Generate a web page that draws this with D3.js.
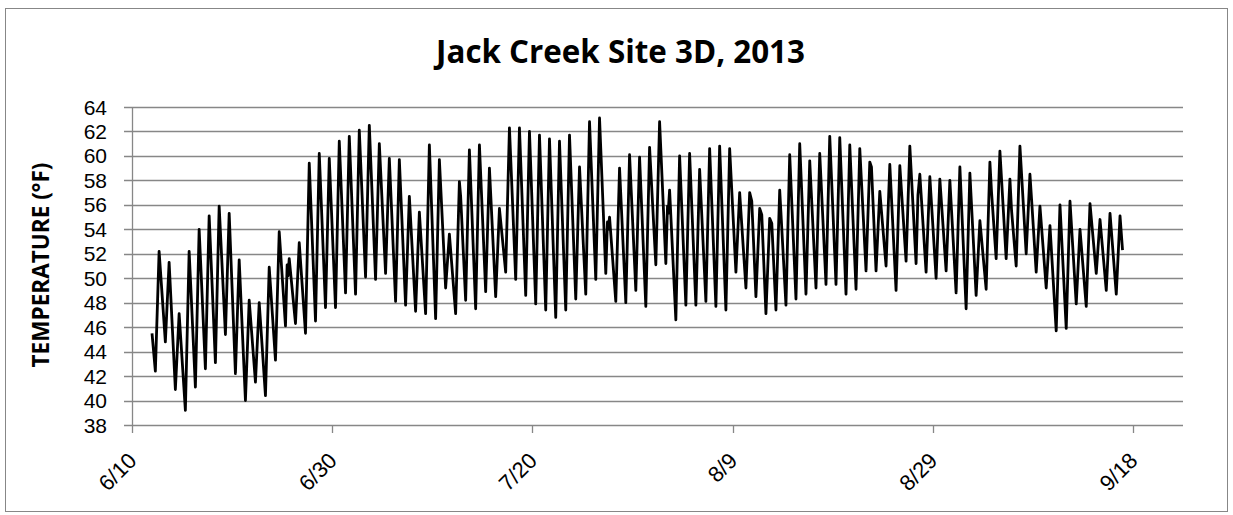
<!DOCTYPE html>
<html><head><meta charset="utf-8">
<script src="https://cdn.jsdelivr.net/npm/d3@7"></script>
<style>
html,body{margin:0;padding:0;background:#fff;}
svg{display:block;font-family:"Open Sans","Liberation Sans",sans-serif;}
.tick{font-family:"Liberation Sans",Arial,sans-serif;}
</style></head>
<body><svg id="c" width="1233" height="515"></svg>
<script>
const chartTitle = "Jack Creek Site 3D, 2013";
const yTitle = "TEMPERATURE (°F)";
const yTicks = [38,40,42,44,46,48,50,52,54,56,58,60,62,64];
const xTickLabels = ["6/10","6/30","7/20","8/9","8/29","9/18"];
const firstDay = "2013-06-12";
// daily minimum readings 6/12 .. 9/16
const dailyMin = [42.4,44.8,40.9,39.2,41.1,42.6,43.1,45.4,42.2,40.0,41.5,40.4,43.3,46.1,46.3,45.5,46.5,47.6,47.6,
 48.8,48.7,50.1,49.9,50.4,48.1,47.8,47.3,47.1,46.7,49.2,47.1,48.2,47.5,48.9,48.5,50.5,49.9,48.6,47.9,47.4,46.8,47.4,48.3,48.7,49.9,50.4,48.1,48.0,49.0,47.7,
 51.1,51.2,46.6,47.8,47.8,48.1,47.7,47.4,50.5,49.2,48.5,47.1,47.4,47.8,48.3,48.7,49.2,49.5,49.5,48.7,49.1,50.6,50.6,51.0,49.0,51.4,51.2,50.5,50.0,50.6,48.8,
 47.5,48.6,49.1,51.6,51.6,51.0,52.0,50.5,49.2,45.7,45.9,47.9,47.7,50.4,49.0,48.7];
// daily maximum readings 6/12 .. 9/16
const dailyMax = [52.2,51.3,47.1,52.2,54.0,55.1,55.9,55.3,51.5,48.2,48.0,50.9,53.8,51.6,52.9,59.4,60.2,59.8,61.2,
 61.6,62.1,62.5,61.0,59.8,59.7,56.7,55.4,60.9,59.7,53.6,57.9,60.5,60.9,59.0,55.7,62.3,62.3,62.0,61.7,61.4,61.2,61.7,59.1,62.8,63.1,55.0,59.0,60.1,59.9,60.7,
 62.8,57.2,60.0,60.2,58.9,60.6,60.8,60.6,57.0,57.0,55.7,54.9,57.2,60.1,61.0,59.6,60.2,61.6,61.5,60.9,60.6,59.5,57.1,59.3,59.2,60.8,58.5,58.3,58.1,58.0,59.1,
 58.6,54.7,59.5,60.4,58.1,60.8,58.5,55.9,54.3,56.0,56.3,54.0,56.1,54.8,55.3,55.1];
// additional intermediate readings (time, °F)
const extraTimes = ["2013-06-12 00:00","2013-06-25 12:00","2013-06-25 14:00","2013-07-12 20:00","2013-07-27 12:00","2013-07-27 14:00",
 "2013-08-02 12:00","2013-08-02 13:30","2013-08-10 22:00","2013-08-11 22:00","2013-08-12 22:00","2013-08-22 21:00",
 "2013-08-27 12:30","2013-09-03 21:00","2013-09-05 21:00","2013-09-07 21:00","2013-09-16 23:00"];
const extraValues = [45.5,51.1,50.2,56.7,54.6,54.0,55.9,55.3,56.3,55.2,54.5,59.1,56.8,57.0,55.5,56.4,52.3];

const svg = d3.select("#c");
const grid = "#878787";

svg.append("rect").attr("x",5.5).attr("y",8.5).attr("width",1222).attr("height",503)
  .attr("fill","#fff").attr("stroke",grid).attr("stroke-width",1);

const parseT = d3.timeParse("%Y-%m-%d %H:%M");
const d0 = d3.timeParse("%Y-%m-%d")(firstDay);
const pts = [];
dailyMin.forEach((v,i)=>{
  const day = d3.timeDay.offset(d0, i);
  pts.push({t:d3.timeHour.offset(day,8), v:v});
  pts.push({t:d3.timeHour.offset(day,17), v:dailyMax[i]});
});
extraTimes.forEach((s,i)=>pts.push({t:parseT(s), v:extraValues[i]}));
pts.sort((a,b)=>a.t-b.t);

const xStart = new Date(2013,5,10), xEnd = new Date(2013,8,23);
const x = d3.scaleTime().domain([xStart,xEnd]).range([132,1183]);
const y = d3.scaleLinear().domain([38,64]).range([425,107]);

// gridlines
svg.append("g").selectAll("line").data(yTicks).join("line")
  .attr("x1",124).attr("x2",1183)
  .attr("y1",d=>Math.round(y(d))+0.5).attr("y2",d=>Math.round(y(d))+0.5)
  .attr("stroke",grid).attr("stroke-width",1.3);
// y axis line
svg.append("line").attr("x1",132.5).attr("x2",132.5).attr("y1",107).attr("y2",425)
  .attr("stroke",grid).attr("stroke-width",1.3);
// y tick labels
svg.append("g").attr("class","tick").selectAll("text").data(yTicks).join("text")
  .attr("x",107).attr("y",d=>y(d)).attr("dy","0.36em")
  .attr("text-anchor","end").attr("font-size",21).attr("fill","#000").text(d=>d);

// x ticks
const xTickDates = xTickLabels.map((s,i)=>d3.timeDay.offset(xStart, i*20));
svg.append("g").selectAll("line").data(xTickDates).join("line")
  .attr("x1",d=>Math.round(x(d))+0.5).attr("x2",d=>Math.round(x(d))+0.5)
  .attr("y1",425).attr("y2",433).attr("stroke",grid).attr("stroke-width",1.3);
svg.append("g").attr("class","tick").selectAll("text").data(xTickDates).join("text")
  .attr("transform",d=>`translate(${x(d)+6},${462}) rotate(-45)`)
  .attr("text-anchor","end").attr("font-size",22).attr("fill","#000")
  .text((d,i)=>xTickLabels[i]);

// data line
const line = d3.line().x(d=>x(d.t)).y(d=>y(d.v));
svg.append("path").datum(pts).attr("d",line).attr("fill","none")
  .attr("stroke","#000").attr("stroke-width",2.8).attr("stroke-linejoin","round");

function fit(sel, target){
  sel.attr("font-size",100);
  const w = sel.node().getComputedTextLength();
  sel.attr("font-size", 100*target/w);
}
const t = svg.append("text").attr("x",620.5).attr("y",63).attr("text-anchor","middle")
  .attr("font-weight","bold").attr("fill","#000").text(chartTitle);
fit(t,369);
const yl = svg.append("text").attr("transform","translate(49,265) rotate(-90)")
  .attr("text-anchor","middle").attr("font-weight","bold").attr("fill","#000").text(yTitle);
fit(yl,205);
</script></body></html>
